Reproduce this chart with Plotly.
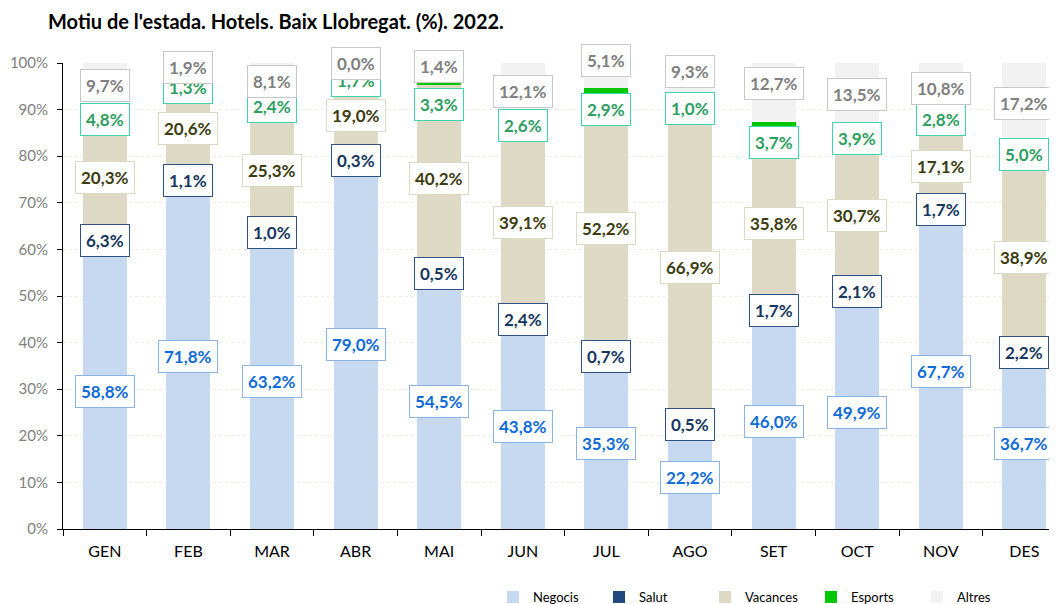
import plotly.graph_objects as go

# ---------------- data ----------------
months = ['GEN', 'FEB', 'MAR', 'ABR', 'MAI', 'JUN', 'JUL', 'AGO', 'SET', 'OCT', 'NOV', 'DES']
negocis = [58.8, 71.8, 63.2, 79.0, 54.5, 43.8, 35.3, 22.2, 46.0, 49.9, 67.7, 36.7]
salut = [6.3, 1.1, 1.0, 0.3, 0.5, 2.4, 0.7, 0.5, 1.7, 2.1, 1.7, 2.2]
vacances = [20.3, 20.6, 25.3, 19.0, 40.2, 39.1, 52.2, 66.9, 35.8, 30.7, 17.1, 38.9]
esports = [4.8, 1.3, 2.4, 1.7, 3.3, 2.6, 2.9, 1.0, 3.7, 3.9, 2.8, 5.0]
altres = [9.7, 1.9, 8.1, 0.0, 1.4, 12.1, 5.1, 9.3, 12.7, 13.5, 10.8, 17.2]

series_names = ['Negocis', 'Salut', 'Vacances', 'Esports', 'Altres']
series_values = [negocis, salut, vacances, esports, altres]

# ---------------- styles ----------------
bar_colors = ['#c6d9f1', '#1f497d', '#ddd9c4', '#00c800', '#f2f2f2']
label_text_colors = ['#0f6bd6', '#17375e', '#3d3c10', '#2e9e62', '#808080']
label_border_colors = ['#8db3e2', '#2f5080', '#ddd9c4', '#3fd5aa', '#c8c8c8']

# manual label nudges (pixels, + = up), as in the original chart
label_nudge = {
    ('FEB', 'Esports'): -12,
    ('ABR', 'Esports'): -14,
    ('MAI', 'Esports'): -27,
    ('JUL', 'Esports'): -15, ('JUL', 'Altres'): 15,
    ('AGO', 'Altres'): 13,
    ('SET', 'Esports'): -12, ('SET', 'Altres'): 9,
    ('OCT', 'Esports'): -4,
}

FONT = 'Lato'
W, H = 1049, 596   # page body has an 8px margin

fig = go.Figure()
for name, vals, col in zip(series_names, series_values, bar_colors):
    fig.add_trace(go.Bar(name=name, x=months, y=vals, marker=dict(color=col, line=dict(width=0)),
                         hoverinfo='skip'))

# labels at centre of each (normalised) segment
annotations = []
for i, m in enumerate(months):
    total = sum(s[i] for s in series_values)
    cum = 0.0
    for k, (name, vals) in enumerate(zip(series_names, series_values)):
        v = vals[i]
        centre = (cum + v / 2.0) / total * 100.0
        cum += v
        txt = f"{v:.1f}".replace('.', ',') + '%'
        annotations.append(dict(
            x=m, y=centre, xref='x', yref='y', text=f"<b>{txt}</b>", showarrow=False,
            font=dict(family=FONT, size=17, color=label_text_colors[k]),
            bgcolor='white', bordercolor=label_border_colors[k], borderwidth=1, borderpad=5,
            xanchor='center', yanchor='middle', yshift=label_nudge.get((m, name), 0)))

fig.update_layout(
    barmode='stack', barnorm='percent', bargap=0.474,
    width=W, height=H,
    margin=dict(l=55, r=2, t=55, b=75, autoexpand=False),
    paper_bgcolor='white', plot_bgcolor='white',
    font=dict(family=FONT, size=14, color='black'),
    title=dict(text="<b>Motiu de l'estada. Hotels. Baix Llobregat. (%). 2022.</b>",
               x=40 / W, xref='container', xanchor='left',
               y=1 - 14 / H, yref='container', yanchor='middle',
               font=dict(family=FONT, size=20, color='black')),
    legend=dict(orientation='h', x=485 / W, xanchor='left', xref='container',
                y=(521 - 589) / 466, yref='paper', yanchor='middle',
                font=dict(family=FONT, size=13, color='black'),
                entrywidth=61, entrywidthmode='pixels', itemclick=False, traceorder='normal'),
    annotations=annotations,
    showlegend=True,
)

fig.update_xaxes(range=[-0.5, 11.366], showline=True, linecolor='black', linewidth=1,
                 ticks='outside', tickson='boundaries', ticklen=6, tickcolor='black',
                 tickfont=dict(family=FONT, size=16, color='black'), ticklabelstandoff=8,
                 showgrid=False, automargin=False)
fig.update_yaxes(range=[0, 100], dtick=10, ticksuffix='%', showline=True, linecolor='black',
                 linewidth=1, ticks='outside', ticklen=5, tickcolor='black',
                 tickfont=dict(family=FONT, size=15, color='#808080'), ticklabelstandoff=6,
                 showgrid=True, gridcolor='#ecece0', griddash='dot', gridwidth=1,
                 zeroline=False, automargin=False)

fig.write_html("out.html")
